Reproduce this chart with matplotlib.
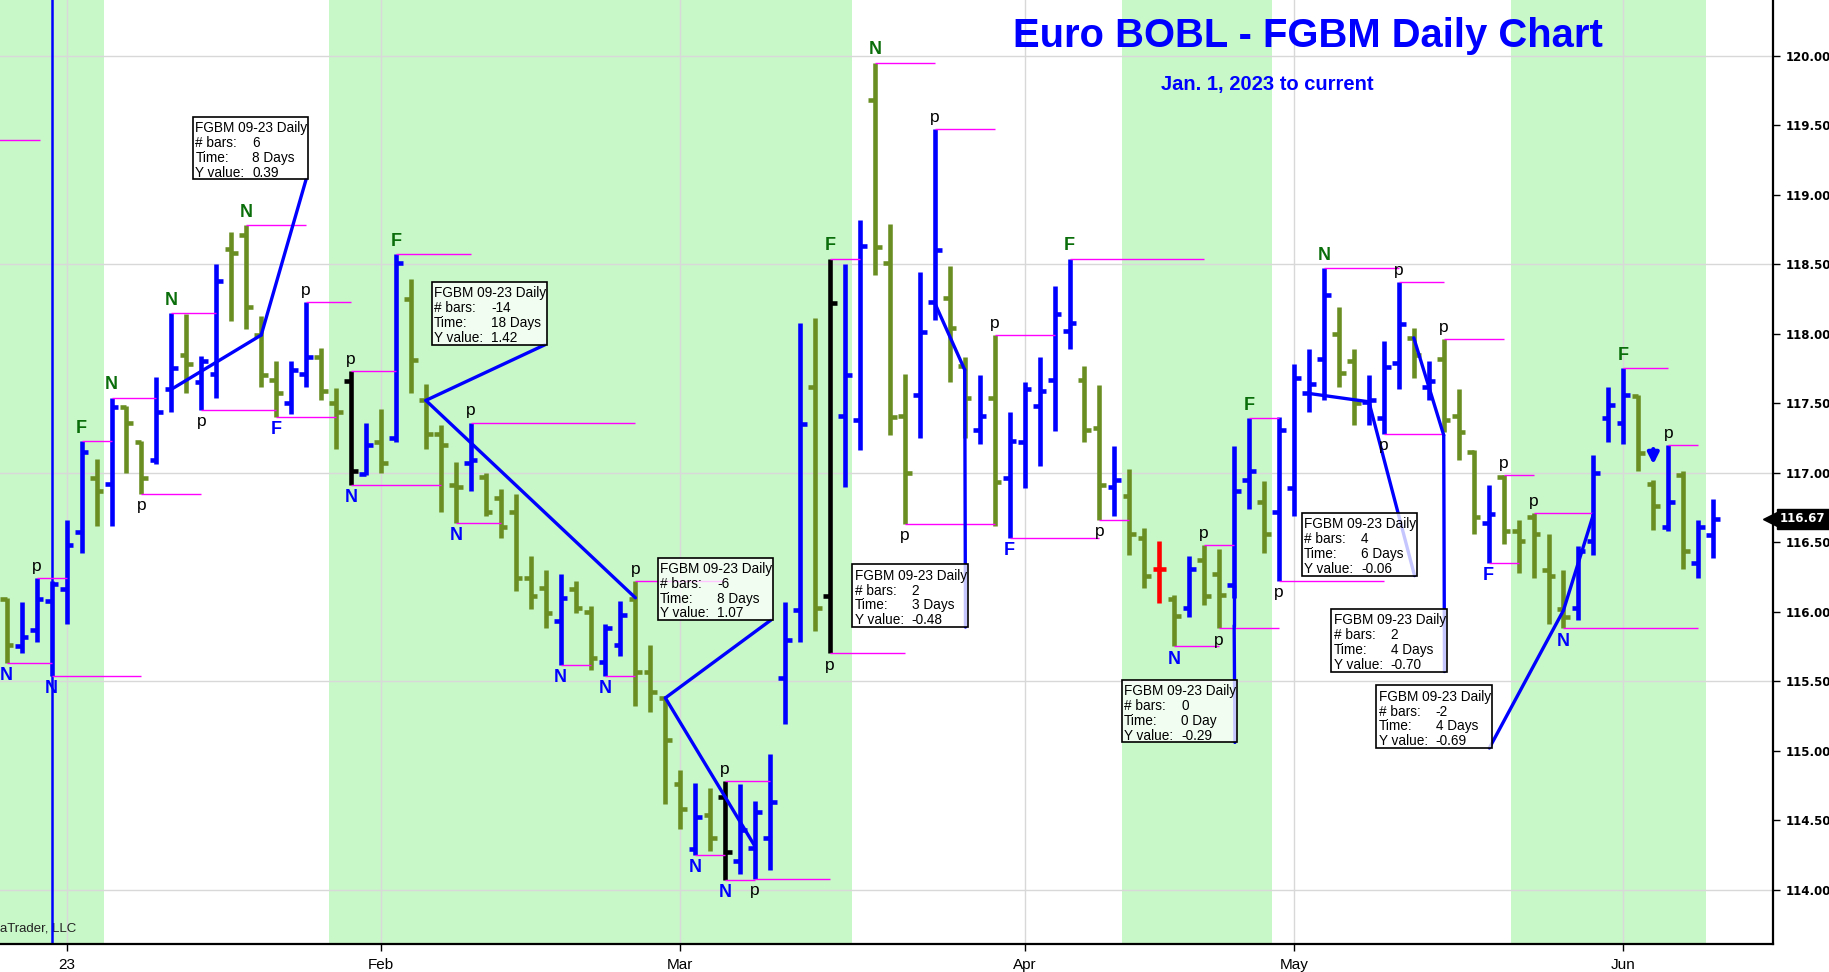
"""
Euro BOBL - FGBM daily OHLC bar chart (Jan 2023 -> Jun 2023)
Bars are placed by trading-day index: 0 = Feb 1, 2023.
"""
import numpy as np
import matplotlib
matplotlib.use("Agg")
import matplotlib.pyplot as plt
from matplotlib.patches import Rectangle
from matplotlib.transforms import blended_transform_factory

# =============================================================================
# DATA
# =============================================================================
bar_idx = list(range(-25, 90))

opens = [
    116.09, 115.75, 115.87, 116.08, 116.16, 116.57, 116.96, 116.92, 117.47, 117.22,
    117.09, 117.60, 117.85, 117.65, 117.71, 118.61, 118.71, 117.99, 117.67, 117.50,
    117.71, 117.83, 117.50, 117.66, 116.99, 117.22, 117.25, 118.25, 117.52, 117.28,
    116.91, 117.07, 116.97, 116.82, 116.72, 116.24, 116.17, 115.93, 116.16, 116.00,
    115.64, 115.76, 116.09, 115.57, 115.38, 114.76, 114.29, 114.54, 114.67, 114.21,
    114.30, 114.37, 115.52, 116.01, 117.62, 116.11, 117.41, 117.38, 119.68, 118.51,
    117.41, 117.56, 118.23, 118.26, 117.77, 117.31, 117.54, 116.96, 117.22, 117.48,
    117.67, 118.02, 117.67, 117.32, 116.90, 116.83, 116.53, 116.31, 116.09, 116.03,
    116.37, 116.27, 116.19, 116.95, 116.79, 116.72, 116.89, 117.57, 117.82, 118.00,
    117.80, 117.51, 117.39, 117.79, 117.97, 117.62, 117.82, 117.41, 117.15, 116.64,
    116.97, 116.58, 116.68, 116.30, 116.02, 116.03, 116.51, 117.39, 117.36, 117.55,
    116.92, 116.61, 116.98, 116.35, 116.55,
]
highs = [
    116.10, 116.07, 116.24, 116.22, 116.66, 117.23, 117.10, 117.54, 117.48, 117.23,
    117.69, 118.15, 118.14, 117.84, 118.50, 118.73, 118.78, 118.13, 117.80, 117.80,
    118.23, 117.90, 117.61, 117.73, 117.36, 117.46, 118.57, 118.39, 117.64, 117.34,
    117.08, 117.36, 117.00, 116.88, 116.85, 116.40, 116.30, 116.27, 116.22, 116.04,
    115.91, 116.08, 116.22, 115.76, 115.38, 114.86, 114.77, 114.73, 114.78, 114.76,
    114.64, 114.98, 116.07, 118.08, 118.11, 118.54, 118.50, 118.82, 119.95, 118.79,
    117.71, 118.44, 119.47, 118.49, 117.83, 117.70, 117.99, 117.44, 117.65, 117.83,
    118.34, 118.54, 117.77, 117.63, 117.19, 117.03, 116.60, 116.51, 116.12, 116.40,
    116.48, 116.45, 117.19, 117.39, 116.94, 117.40, 117.78, 117.89, 118.47, 118.19,
    117.89, 117.70, 117.95, 118.37, 118.04, 117.80, 117.96, 117.60, 117.16, 116.91,
    116.98, 116.66, 116.71, 116.56, 116.30, 116.47, 117.13, 117.62, 117.75, 117.56,
    116.95, 117.20, 117.01, 116.66, 116.81,
]
lows = [
    115.63, 115.70, 115.78, 115.54, 115.91, 116.42, 116.62, 116.62, 117.00, 116.85,
    117.06, 117.44, 117.57, 117.45, 117.54, 118.09, 118.03, 117.62, 117.40, 117.42,
    117.62, 117.52, 117.17, 116.91, 116.98, 117.00, 117.22, 117.57, 117.17, 116.72,
    116.64, 116.87, 116.69, 116.53, 116.15, 116.02, 115.88, 115.62, 115.99, 115.58,
    115.54, 115.68, 115.32, 115.28, 114.62, 114.44, 114.25, 114.28, 114.07, 114.11,
    114.08, 114.14, 115.19, 115.78, 115.86, 115.70, 116.90, 117.16, 118.42, 117.27,
    116.63, 117.25, 118.10, 117.65, 117.25, 117.21, 116.62, 116.53, 116.89, 117.05,
    117.30, 117.89, 117.22, 116.66, 116.69, 116.41, 116.17, 116.06, 115.75, 115.96,
    116.05, 115.88, 116.10, 116.74, 116.42, 116.22, 116.69, 117.44, 117.52, 117.62,
    117.34, 117.34, 117.28, 117.60, 117.68, 117.52, 117.29, 117.09, 116.56, 116.35,
    116.49, 116.28, 116.24, 115.91, 115.88, 115.94, 116.41, 117.22, 117.21, 117.01,
    116.59, 116.58, 116.31, 116.24, 116.39,
]
closes = [
    115.76, 115.82, 116.09, 116.20, 116.48, 117.15, 116.87, 117.47, 117.36, 116.96,
    117.44, 117.75, 117.78, 117.80, 118.38, 118.58, 118.19, 117.70, 117.57, 117.74,
    117.83, 117.59, 117.44, 117.01, 117.20, 117.07, 118.51, 117.81, 117.28, 117.20,
    116.90, 117.09, 116.72, 116.61, 116.24, 116.11, 115.99, 116.10, 116.03, 115.67,
    115.88, 115.98, 115.57, 115.42, 115.08, 114.58, 114.52, 114.37, 114.27, 114.43,
    114.56, 114.63, 115.80, 117.35, 116.03, 118.22, 117.70, 118.63, 118.62, 117.40,
    117.00, 118.01, 118.60, 118.04, 117.54, 117.41, 116.93, 117.23, 117.60, 117.59,
    118.14, 118.08, 117.31, 116.91, 116.95, 116.56, 116.26, 116.31, 115.97, 116.31,
    116.11, 116.12, 116.87, 117.01, 116.56, 117.31, 117.68, 117.64, 118.28, 117.72,
    117.50, 117.52, 117.76, 118.07, 117.85, 117.66, 117.38, 117.29, 116.68, 116.70,
    116.58, 116.51, 116.56, 116.26, 115.96, 116.44, 117.00, 117.49, 117.56, 117.14,
    116.76, 116.79, 116.44, 116.61, 116.67,
]
black_bars = [-2, 23, 30]          # highlighted bars drawn in black

# month ticks (bar index -> label)
tick_idx = [-21, 0, 20, 43, 61, 83]
tick_lbl = ["23", "Feb", "Mar", "Apr", "May", "Jun"]

# shaded periods (bar index ranges)
band_from = [-30.0, -3.5, 49.5, 75.5]
band_to   = [-18.5, 31.5, 59.5, 88.5]

# pivot labels: (bar, text, side, colour key)
pivots = [
    (-25, "N", "lo", "blue"), (-23, "p", "hi", "black"), (-22, "N", "lo", "blue"),
    (-20, "F", "hi", "green"), (-18, "N", "hi", "green"), (-16, "p", "lo", "black"),
    (-14, "N", "hi", "green"), (-12, "p", "lo", "black"), (-9, "N", "hi", "green"),
    (-7, "F", "lo", "blue"), (-5, "p", "hi", "black"), (-2, "p", "hi", "black"),
    (-2, "N", "lo", "blue"), (1, "F", "hi", "green"), (5, "N", "lo", "blue"),
    (6, "p", "hi", "black"), (12, "N", "lo", "blue"), (15, "N", "lo", "blue"),
    (17, "p", "hi", "black"), (21, "N", "lo", "blue"), (23, "p", "hi", "black"),
    (23, "N", "lo", "blue"), (25, "p", "lo", "black"), (30, "F", "hi", "green"),
    (30, "p", "lo", "black"), (33, "N", "hi", "green"), (35, "p", "lo", "black"),
    (37, "p", "hi", "black"), (41, "p", "hi", "black"), (42, "F", "lo", "blue"),
    (46, "F", "hi", "green"), (48, "p", "lo", "black"), (53, "N", "lo", "blue"),
    (55, "p", "hi", "black"), (56, "p", "lo", "black"), (58, "F", "hi", "green"),
    (60, "p", "lo", "black"), (63, "N", "hi", "green"), (67, "p", "lo", "black"),
    (68, "p", "hi", "black"), (71, "p", "hi", "black"), (74, "F", "lo", "blue"),
    (75, "p", "hi", "black"), (77, "p", "hi", "black"), (79, "N", "lo", "blue"),
    (83, "F", "hi", "green"), (86, "p", "hi", "black"),
]

# magenta pivot levels: (from bar, to bar, hi/lo of the from bar)
levels = [
    (-25, -22, "lo"), (-23, -21, "hi"), (-22, -16, "lo"), (-20, -18, "hi"),
    (-18, -15, "hi"), (-16, -12, "lo"), (-14, -11, "hi"), (-12, -7, "lo"),
    (-9, -5, "hi"), (-7, -3, "lo"), (-5, -2, "hi"), (-2, 1, "hi"), (-2, 4, "lo"),
    (1, 6, "hi"), (5, 8, "lo"), (6, 17, "hi"), (12, 14, "lo"), (15, 17, "lo"),
    (17, 23, "hi"), (21, 23, "lo"), (23, 26, "hi"), (23, 25, "lo"), (25, 30, "lo"),
    (30, 32, "hi"), (30, 35, "lo"), (33, 37, "hi"), (35, 41, "lo"), (37, 41, "hi"),
    (41, 45, "hi"), (42, 48, "lo"), (46, 55, "hi"), (48, 50, "lo"), (53, 56, "lo"),
    (55, 57, "hi"), (56, 60, "lo"), (58, 60, "hi"), (60, 67, "lo"), (63, 68, "hi"),
    (67, 71, "lo"), (68, 71, "hi"), (71, 75, "hi"), (74, 76, "lo"), (75, 77, "hi"),
    (77, 81, "hi"), (79, 88, "lo"), (83, 86, "hi"), (86, 88, "hi"),
]
old_level = 119.39                 # level left over from before the window

# measurement tool: start / end points (bar, price) and box texts
meas_start = [(-14, 117.60), (17, 116.10), (25, 114.31), (37, 118.22),
              (57, 116.19), (62, 117.57), (69, 117.97), (81, 116.70)]
meas_end   = [(-8, 117.99), (3, 117.52), (19, 115.38), (39, 117.74),
              (57, 115.90), (66, 117.51), (71, 117.27), (79, 116.01)]
box_bars = ["6", "-14", "-6", "2", "0", "4", "2", "-2"]
box_time = ["8 Days", "18 Days", "8 Days", "3 Days", "0 Day", "6 Days", "4 Days", "4 Days"]
box_yval = ["0.39", "1.42", "1.07", "-0.48", "-0.29", "-0.06", "-0.70", "-0.69"]
# box placement (right edge in bars, bottom edge in price)
box_right  = [-4.85, 11.1, 26.2, 39.2, 57.2, 69.2, 71.2, 74.2]
box_bottom = [119.11, 117.92, 115.94, 115.89, 115.06, 116.26, 115.57, 115.02]

arrow_bar = 85                     # blue down arrow marker

# =============================================================================
# STYLE
# =============================================================================
BLUE = "#0000ff"
OLIVE = "#6b8e23"
GREEN_TXT = "#0a6e0a"
BAND = "#c8f7c8"
MAGENTA = "#ff00ff"
BOX_W, BOX_H = 7.7, 0.45
TICK = 0.45
LW = 3.3

plt.rcParams["font.family"] = ["Liberation Sans", "DejaVu Sans"]

fig = plt.figure(figsize=(18.29, 9.72), dpi=100)
ax = fig.add_axes([0.0, 0.0288, 0.9694, 0.9712])
ax.set_xlim(-25.45, 93.0)
ax.set_ylim(113.61, 120.40)
xtrans = blended_transform_factory(ax.transAxes, ax.transData)

# background bands and grid
for a, b in zip(band_from, band_to):
    ax.axvspan(a, b, color=BAND, lw=0, zorder=0)
for t in tick_idx:
    ax.axvline(t, color="#d8d8d8", lw=1, zorder=1)
for g in np.arange(114.0, 120.01, 1.5):
    ax.axhline(g, color="#d8d8d8", lw=1, zorder=1)

ax.axvline(-22, color=BLUE, lw=1.8, zorder=1.5)

# OHLC bars
x = np.array(bar_idx, dtype=float)
cols = []
for i, o, c in zip(bar_idx, opens, closes):
    if i in black_bars:
        cols.append("black")
    elif abs(c - o) < 1e-9:
        cols.append("red")
    elif c > o:
        cols.append(BLUE)
    else:
        cols.append(OLIVE)
ax.vlines(x, lows, highs, colors=cols, lw=LW, zorder=2, capstyle="butt")
ax.hlines(opens, x - TICK, x, colors=cols, lw=LW, zorder=2)
ax.hlines(closes, x, x + TICK, colors=cols, lw=LW, zorder=2)

# magenta levels
pos = {b: k for k, b in enumerate(bar_idx)}
for a, b, side in levels:
    y = highs[pos[a]] if side == "hi" else lows[pos[a]]
    ax.hlines(y, a, b, colors=MAGENTA, lw=1.0, zorder=2.5)
ax.hlines(old_level, -25.6, -22.8, colors=MAGENTA, lw=1.0, zorder=2.5)

# pivot letters
txt_col = {"blue": BLUE, "green": GREEN_TXT, "black": "black"}
for b, s, side, ck in pivots:
    k = pos[b]
    bold = "bold" if s != "p" else "normal"
    size = 13 if s != "p" else 12.5
    if side == "hi":
        ax.annotate(s, (b, highs[k]), xytext=(0, 3), textcoords="offset points",
                    ha="center", va="bottom", color=txt_col[ck],
                    fontsize=size, fontweight=bold, zorder=4)
    else:
        ax.annotate(s, (b, lows[k]), xytext=(0, -3), textcoords="offset points",
                    ha="center", va="top", color=txt_col[ck],
                    fontsize=size, fontweight=bold, zorder=4)

# down arrow
ka = pos[arrow_bar]
ax.annotate("", xy=(arrow_bar, highs[ka] + 0.09), xytext=(arrow_bar, highs[ka] + 0.24),
            arrowprops=dict(arrowstyle="-|>", color=BLUE, lw=3, mutation_scale=16),
            zorder=4)

# measurement lines, leaders and boxes
for k in range(len(meas_start)):
    (xa, ya), (xb, yb) = meas_start[k], meas_end[k]
    x1, y0 = box_right[k], box_bottom[k]
    x0 = x1 - BOX_W
    ax.plot([xa, xb], [ya, yb], color=BLUE, lw=2.4, zorder=3, solid_capstyle="round")
    ax.plot([xb, x1 - 0.15], [yb, y0], color=BLUE, lw=2.4, zorder=3, solid_capstyle="round")
    ax.add_patch(Rectangle((x0, y0), BOX_W, BOX_H, fc=(1, 1, 1, 0.78), ec="black",
                           lw=1.2, zorder=5))
    top = y0 + BOX_H
    rows = [("FGBM 09-23 Daily", ""), ("# bars:", box_bars[k]),
            ("Time:", box_time[k]), ("Y value:", box_yval[k])]
    for j, (lab, val) in enumerate(rows):
        yy = top - BOX_H * (0.18 + 0.238 * j)
        ax.text(x0 + 0.02 * BOX_W, yy, lab, ha="left", va="center", fontsize=9.8,
                zorder=6)
        if val:
            ax.text(x0 + 0.515 * BOX_W, yy, val, ha="left", va="center", fontsize=9.8,
                    zorder=6)

# titles and credit
ax.text(0.7377, 0.950, "Euro BOBL - FGBM Daily Chart", transform=ax.transAxes,
        ha="center", va="baseline", color=BLUE, fontsize=28.8, fontweight="bold", zorder=7)
ax.text(0.715, 0.9047, "Jan. 1, 2023 to current", transform=ax.transAxes,
        ha="center", va="baseline", color=BLUE, fontsize=14.5, fontweight="bold", zorder=7)
ax.text(0.0, 113.72, "aTrader, LLC", transform=xtrans, ha="left", va="center",
        fontsize=9.5, color="#222222", zorder=1.4)

# axes
for s in ["top", "left"]:
    ax.spines[s].set_visible(False)
for s in ["right", "bottom"]:
    ax.spines[s].set_linewidth(1.6)
ax.yaxis.tick_right()
ax.set_yticks(np.arange(114.0, 120.01, 0.5))
ax.set_yticklabels([f"{v:.2f}" for v in np.arange(114.0, 120.01, 0.5)],
                   fontsize=8.5, fontweight="bold", family="DejaVu Sans")
ax.tick_params(axis="y", direction="out", length=5, width=1, pad=4)
ax.set_xticks(tick_idx)
ax.set_xticklabels(tick_lbl, fontsize=11)
ax.tick_params(axis="x", direction="out", length=5, width=1, pad=5)

# last price marker
last = closes[-1]
ax.plot([0.9985], [last], marker="<", ms=10, color="black", transform=xtrans,
        clip_on=False, zorder=10)
ax.text(1.004, last, f"{last:.2f}", transform=xtrans, ha="left", va="center",
        color="white", fontsize=8.5, fontweight="bold", family="DejaVu Sans",
        bbox=dict(boxstyle="square,pad=0.3", fc="black", ec="black"),
        zorder=10, clip_on=False)

fig.savefig("out.png", dpi=100)
